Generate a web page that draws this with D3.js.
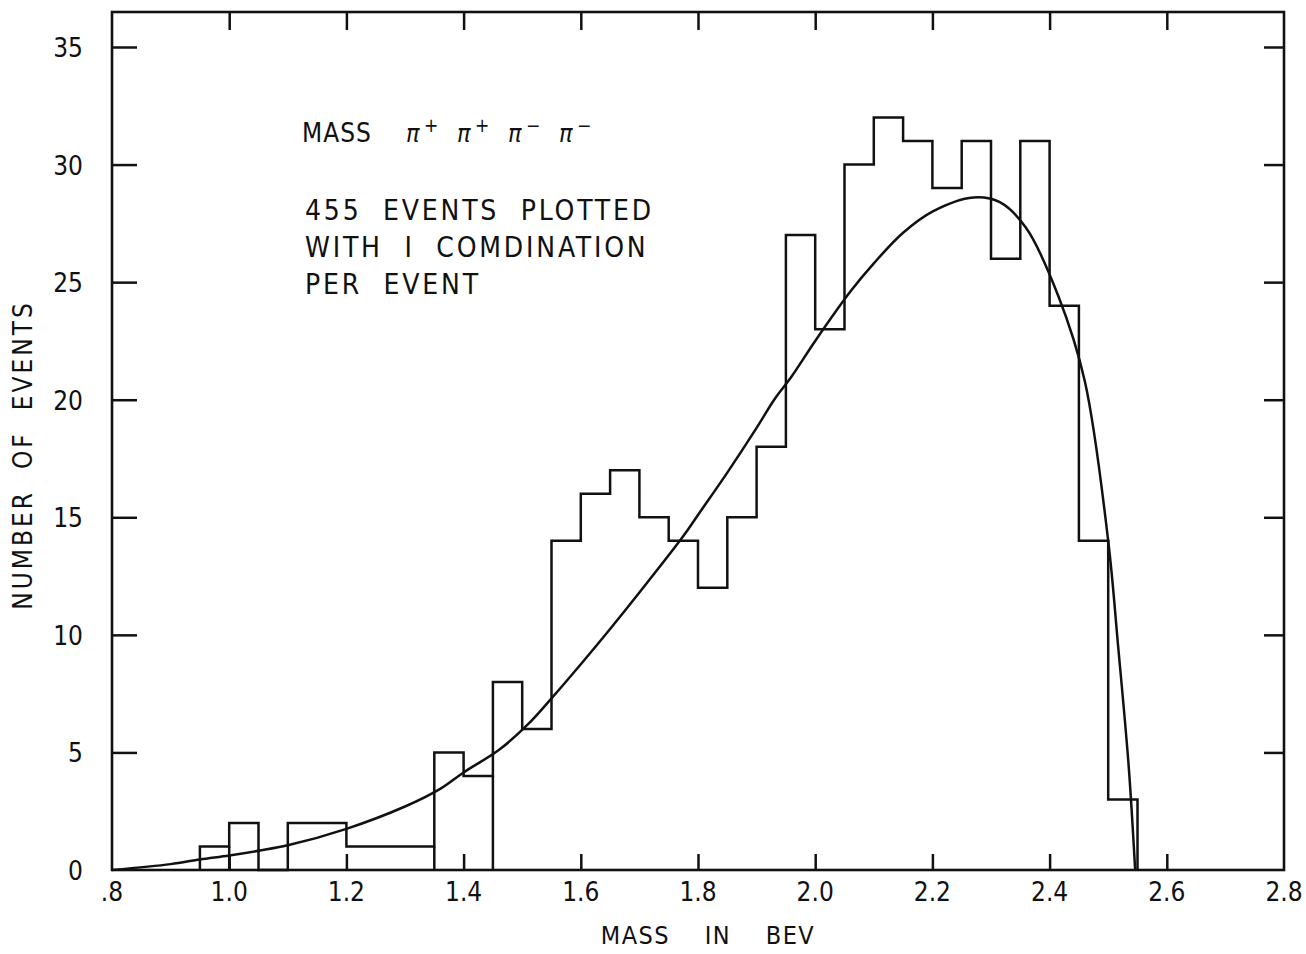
<!DOCTYPE html>
<html>
<head>
<meta charset="utf-8">
<script src="https://cdn.jsdelivr.net/npm/d3@7"></script>
<style>
  html, body { margin: 0; padding: 0; background: #fff; }
  svg { display: block; }
  text { font-family: "Liberation Sans Narrow", "DejaVu Sans Condensed", "Liberation Sans", sans-serif; fill: #111; }
</style>
</head>
<body>
<svg id="chart" width="1306" height="954"></svg>
<script>
// ---- data ----
const binLefts = [0.95, 1.00, 1.05, 1.10, 1.15, 1.20, 1.25, 1.30, 1.35, 1.40, 1.45, 1.50, 1.55, 1.60, 1.65, 1.70,
                  1.75, 1.80, 1.85, 1.90, 1.95, 2.00, 2.05, 2.10, 2.15, 2.20, 2.25, 2.30, 2.35, 2.40, 2.45, 2.50];
const binWidth = 0.05;
const counts   = [1, 2, 0, 2, 2, 1, 1, 1, 5, 4, 8, 6, 14, 16, 17, 15,
                  14, 12, 15, 18, 27, 23, 30, 32, 31, 29, 31, 26, 31, 24, 14, 3];
const dropEdges = [1.00, 1.35, 1.45];

const curveX = [0.80, 0.90, 0.95, 1.00, 1.05, 1.10, 1.20, 1.30, 1.36, 1.40, 1.46, 1.51, 1.55, 1.60, 1.65, 1.70,
                1.775, 1.80, 1.85, 1.90, 1.93, 1.96, 2.00, 2.06, 2.10, 2.15, 2.20, 2.27, 2.315, 2.36, 2.415, 2.46,
                2.50, 2.517, 2.535, 2.546];
const curveY = [0.0, 0.25, 0.45, 0.62, 0.82, 1.05, 1.75, 2.7, 3.45, 4.15, 5.1, 6.2, 7.3, 8.75, 10.25, 11.8,
                14.2, 15.1, 16.9, 18.8, 20.0, 21.0, 22.5, 24.6, 25.8, 27.1, 28.0, 28.6, 28.4, 27.3, 24.4, 20.8,
                14.0, 9.5, 4.4, 0.0];

const xTickValues = [0.8, 1.0, 1.2, 1.4, 1.6, 1.8, 2.0, 2.2, 2.4, 2.6, 2.8];
const xTickLabels = [".8", "1.0", "1.2", "1.4", "1.6", "1.8", "2.0", "2.2", "2.4", "2.6", "2.8"];
const yTickValues = [0, 5, 10, 15, 20, 25, 30, 35];
const yTickLabels = ["0", "5", "10", "15", "20", "25", "30", "35"];

const titleLine = "MASS";
const pionLabels = ["π", "π", "π", "π"];
const pionCharges = ["+", "+", "−", "−"];
const noteLines = ["455  EVENTS  PLOTTED", "WITH  I  COMDINATION", "PER  EVENT"];
const xTitle = "MASS    IN    BEV";
const yTitle = "NUMBER  OF  EVENTS";

// ---- layout ----
const L = 112, R = 1284, B = 870, T = 12;
const svg = d3.select("#chart");
const x = d3.scaleLinear().domain([0.8, 2.8]).range([L, R]);
const y = d3.scaleLinear().domain([0, 35]).range([B, 47]);
const ink = "#111";
const sw = 2.5;

// frame
svg.append("rect").attr("x", L).attr("y", T).attr("width", R - L).attr("height", B - T)
  .attr("fill", "none").attr("stroke", ink).attr("stroke-width", 2.6);

// ticks (inward) with d3 axes
const innerX = xTickValues.slice(1, -1);
const innerY = yTickValues.slice(1);
svg.append("g").attr("transform", `translate(0,${B})`)
  .call(d3.axisTop(x).tickValues(innerX).tickSize(16).tickFormat(""))
  .call(g => g.select(".domain").remove())
  .call(g => g.selectAll("line").attr("stroke", ink).attr("stroke-width", sw));
svg.append("g").attr("transform", `translate(0,${T})`)
  .call(d3.axisBottom(x).tickValues(innerX).tickSize(18).tickFormat(""))
  .call(g => g.select(".domain").remove())
  .call(g => g.selectAll("line").attr("stroke", ink).attr("stroke-width", sw));
svg.append("g").attr("transform", `translate(${L},0)`)
  .call(d3.axisRight(y).tickValues(innerY).tickSize(25).tickFormat(""))
  .call(g => g.select(".domain").remove())
  .call(g => g.selectAll("line").attr("stroke", ink).attr("stroke-width", sw));
svg.append("g").attr("transform", `translate(${R},0)`)
  .call(d3.axisLeft(y).tickValues(innerY).tickSize(20).tickFormat(""))
  .call(g => g.select(".domain").remove())
  .call(g => g.selectAll("line").attr("stroke", ink).attr("stroke-width", sw));

// tick labels
svg.append("g").selectAll("text").data(xTickValues).join("text")
  .attr("x", d => x(d)).attr("y", 901)
  .attr("text-anchor", "middle").attr("font-size", 26)
  .text((d, i) => xTickLabels[i]);
svg.append("g").selectAll("text").data(yTickValues).join("text")
  .attr("x", 83).attr("y", d => y(d) + 10)
  .attr("text-anchor", "end").attr("font-size", 26)
  .text((d, i) => yTickLabels[i]);

// axis titles
svg.append("text").attr("x", 708).attr("y", 944).attr("text-anchor", "middle")
  .attr("font-size", 25).attr("letter-spacing", 1.5).attr("xml:space", "preserve").text(xTitle);
svg.append("text").attr("transform", "translate(32,455) rotate(-90)").attr("text-anchor", "middle")
  .attr("font-size", 26).attr("letter-spacing", 3).attr("xml:space", "preserve").text(yTitle);

// histogram outline
const pts = [[binLefts[0], 0]];
binLefts.forEach((b, i) => pts.push([b, counts[i]]));
pts.push([binLefts[binLefts.length - 1] + binWidth, 0]);
const stepLine = d3.line().x(d => x(d[0])).y(d => y(d[1])).curve(d3.curveStepAfter);
svg.append("path").attr("d", stepLine(pts)).attr("fill", "none")
  .attr("stroke", ink).attr("stroke-width", sw).attr("stroke-linejoin", "miter");

// internal edges drawn down to the baseline
svg.append("g").selectAll("line").data(dropEdges).join("line")
  .attr("x1", d => x(d)).attr("x2", d => x(d))
  .attr("y1", y(0))
  .attr("y2", d => {
    const i = binLefts.findIndex(b => Math.abs(b - d) < 1e-6);
    return y(Math.min(counts[i], counts[i - 1]));
  })
  .attr("stroke", ink).attr("stroke-width", sw);

// phase-space curve
const curvePts = curveX.map((v, i) => [v, curveY[i]]);
const smooth = d3.line().x(d => x(d[0])).y(d => y(d[1])).curve(d3.curveCatmullRom.alpha(0.5));
svg.append("path").attr("d", smooth(curvePts)).attr("fill", "none")
  .attr("stroke", ink).attr("stroke-width", sw);

// annotations
svg.append("text").attr("x", 302).attr("y", 142).attr("font-size", 26).attr("letter-spacing", 1).text(titleLine);
const pg = svg.append("g");
pionLabels.forEach((p, i) => {
  const px = 406 + i * 51;
  pg.append("text").attr("x", px).attr("y", 142).attr("font-size", 25)
    .attr("font-style", "italic").attr("font-family", "DejaVu Serif, serif").text(p);
  pg.append("text").attr("x", px + 18).attr("y", 132).attr("font-size", 19).text(pionCharges[i]);
});
svg.append("g").selectAll("text").data(noteLines).join("text")
  .attr("x", 305).attr("y", (d, i) => 220 + i * 37)
  .attr("font-size", 28).attr("letter-spacing", 2.8).attr("xml:space", "preserve")
  .text(d => d);
</script>
</body>
</html>
